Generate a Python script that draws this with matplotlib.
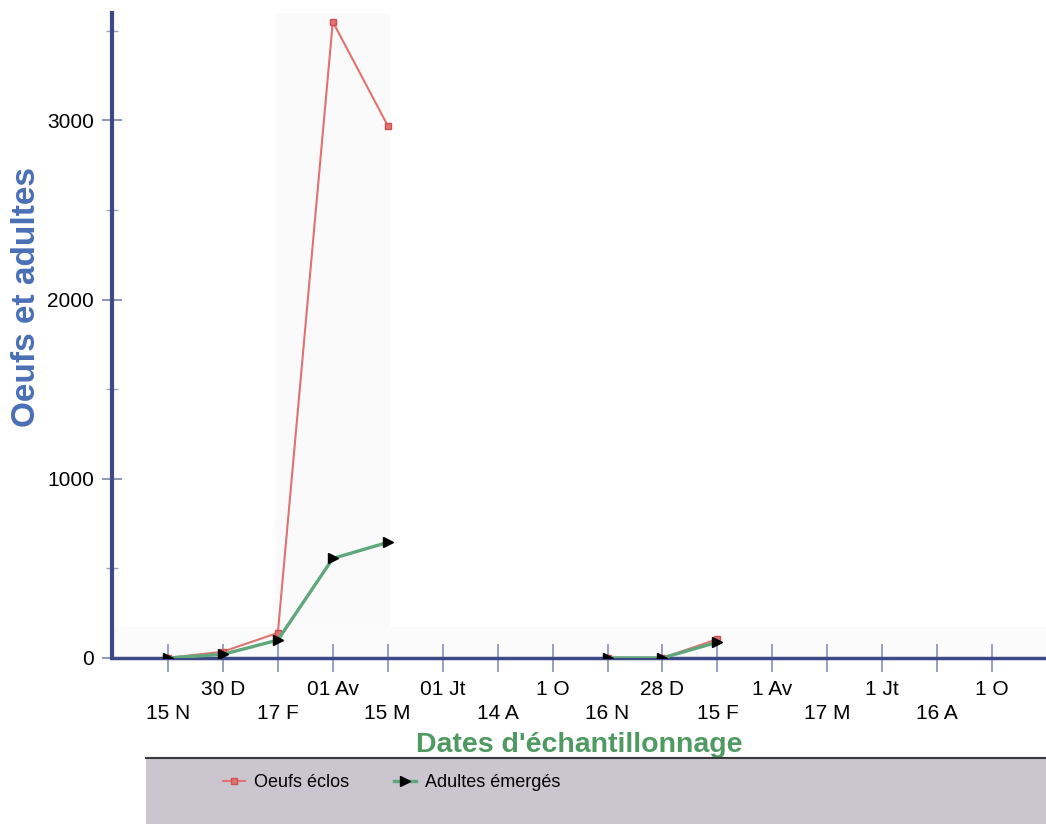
import numpy as np
import matplotlib
matplotlib.use("Agg")
import matplotlib.pyplot as plt
from matplotlib.patches import Rectangle
from matplotlib.ticker import MultipleLocator

plt.rcParams['font.family'] = ['Liberation Sans', 'DejaVu Sans']

# dates d'échantillonnage (deux cycles)
dates = ['15 N', '30 D', '17 F', '01 Av', '15 M', '01 Jt', '14 A', '1 O',
         '16 N', '28 D', '15 F', '1 Av', '17 M', '1 Jt', '16 A', '1 O']

nan = np.nan
oeufs = [0, 35, 140, 3550, 2970, nan, nan, nan,
         0, 0, 105, nan, nan, nan, nan, nan]
adultes = [0, 20, 100, 555, 645, nan, nan, nan,
           0, 0, 88, nan, nan, nan, nan, nan]

axe_col = '#3d4a86'
rouge = '#e07272'
vert = '#5fa87c'

fig = plt.figure(figsize=(10.46, 8.24), dpi=100)
ax = fig.add_axes([0.107, 0.2015, 0.894, 0.783])

x = np.arange(len(dates))

# léger fond grisé du scan
ax.axvspan(1.95, 4.05, color='#fafafa', zorder=0, lw=0)
ax.axhspan(0, 175, color='#fbfbfb', zorder=0, lw=0)

ax.plot(x, oeufs, color=rouge, lw=1.5, marker='s', ms=5,
        mfc=rouge, mec='#d05050', label='Oeufs éclos', zorder=3)
ax.plot(x, adultes, color=vert, lw=2.4, marker='>', ms=7,
        mfc='black', mec='black', label='Adultes émergés', zorder=4)

ax.set_xlim(-1.02, 16)
ax.set_ylim(0, 3600)

ax.set_xticks(x)
labels = [('\n' + d) if i % 2 == 0 else (d + '\n') for i, d in enumerate(dates)]
ax.set_xticklabels(labels, fontsize=15, linespacing=1.3)
ax.yaxis.set_major_locator(MultipleLocator(1000))
ax.yaxis.set_minor_locator(MultipleLocator(500))
ax.tick_params(axis='y', labelsize=15, direction='inout', length=14,
               color='#7a86a8', width=1.2, pad=6)
ax.tick_params(axis='y', which='minor', direction='inout', length=8,
               color='#9aa4c0', width=1)
ax.tick_params(axis='x', direction='inout', length=20, color='#7a86b0',
               width=1.1, pad=6)

for s in ['top', 'right']:
    ax.spines[s].set_visible(False)
ax.spines['left'].set_color(axe_col)
ax.spines['left'].set_linewidth(3)
ax.spines['bottom'].set_color(axe_col)
ax.spines['bottom'].set_linewidth(2.5)

ax.set_ylabel('Oeufs et adultes', fontsize=24, fontweight='bold',
              color='#4a6fb5')
ax.yaxis.set_label_coords(-0.075, 0.56)
ax.set_xlabel("Dates d'échantillonnage", fontsize=20.5, fontweight='bold',
              color='#4f9a62')
ax.xaxis.set_label_coords(0.5, -0.115)

# cadre de légende grisé
fig.patches.append(Rectangle((0.14, 0.0), 0.86, 0.08, transform=fig.transFigure,
                             facecolor='#cac5cf', edgecolor='none', zorder=0))
fig.lines.append(plt.Line2D([0.14, 1.0], [0.08, 0.08], transform=fig.transFigure,
                            color='#3a3a3a', lw=1.5))
fig.legend(loc='upper left', bbox_to_anchor=(0.198, 0.08), ncol=2,
           frameon=False, fontsize=13, handlelength=1.2, columnspacing=2.5,
           handletextpad=0.5, markerfirst=True)

fig.savefig('out.png', dpi=100)
